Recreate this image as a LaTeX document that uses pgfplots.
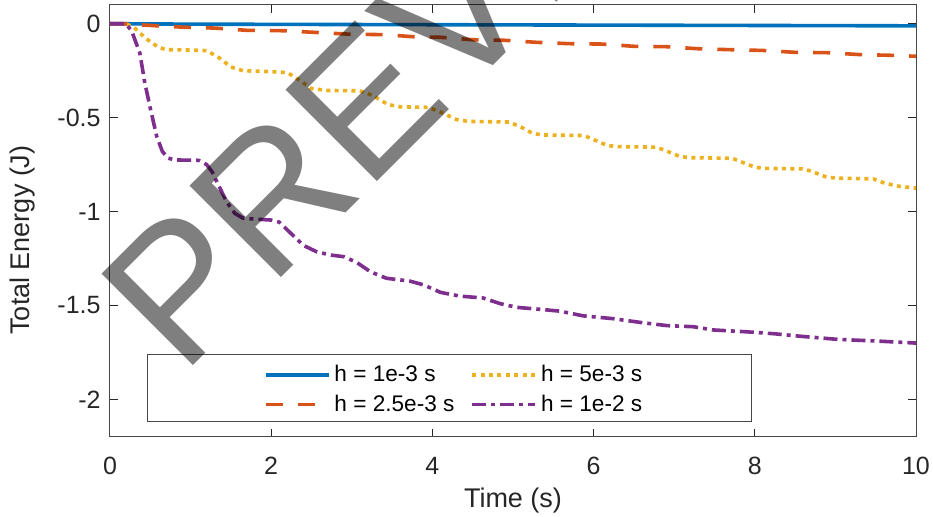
\documentclass[border=0pt]{standalone}
\usepackage{pgfplots}
\pgfplotsset{compat=1.18}
\usepackage{fontspec}
\setmainfont{Liberation Sans}
\definecolor{c1}{rgb}{0,0.447,0.741}
\definecolor{c2}{rgb}{0.850,0.325,0.098}
\definecolor{c3}{rgb}{0.929,0.694,0.125}
\definecolor{c4}{rgb}{0.494,0.184,0.556}
\definecolor{axc}{rgb}{0.15,0.15,0.15}
\begin{document}
\begin{tikzpicture}
\path[use as bounding box] (-55pt,-40pt) rectangle (411.5pt,218.5pt);
\begin{axis}[
  scale only axis, width=403pt, height=216pt,
  xmin=0, xmax=10, ymin=-2.2, ymax=0.1,
  xtick={0,2,4,6,8,10}, xticklabels={0,2,4,6,8,10},
  ytick={-2,-1.5,-1,-0.5,0}, yticklabels={-2,-1.5,-1,-0.5,0},
  tick align=inside, major tick length=4pt,
  axis line style={axc!85, line width=0.5pt},
  every tick/.style={axc, line width=0.5pt},
  tick label style={font=\fontsize{12.5}{14}\selectfont, text=axc},
  xticklabel style={yshift=-6.5pt},
  yticklabel style={xshift=-1.2pt},
  xlabel={Time (s)}, ylabel={Total Energy (J)},
  label style={font=\fontsize{13.5}{15}\selectfont, text=axc},
  xlabel style={at={(axis description cs:0.5,-0.146)}, anchor=center},
  ylabel style={at={(axis description cs:-0.109,0.456)}, anchor=center},
  legend columns=2,
  legend cell align=left,
  legend style={at={(axis description cs:0.183,0.185)}, anchor=north west,
    draw=none, fill=none, font=\fontsize{11.3}{13}\selectfont, row sep=1pt,
    /tikz/every even column/.append style={column sep=6pt}},
  legend image code/.code={\draw[#1] (0pt,0pt) -- (31.5pt,0pt);},
]
\draw[axc!85, fill=white, line width=0.5pt] (axis description cs:0.047,0.192) rectangle (axis description cs:0.7965,0.037);
\addplot[c1, line width=1.8pt] table {
0 0
0.2 0
1 -0.002
2 -0.003
3 -0.004
4 -0.005
5 -0.006
6 -0.007
7 -0.008
8 -0.009
9 -0.010
10 -0.011
};
\addlegendentry{h = 1e-3 s}
\addplot[c3, line width=1.8pt, dash pattern=on 2pt off 2.2pt] table {
0 0
0.2 0
0.3 -0.02
0.45 -0.08
0.6 -0.125
0.7 -0.138
1.0 -0.14
1.2 -0.143
1.35 -0.18
1.5 -0.23
1.65 -0.25
2.0 -0.255
2.2 -0.26
2.35 -0.3
2.5 -0.345
2.7 -0.355
3.1 -0.357
3.25 -0.38
3.45 -0.43
3.6 -0.442
3.95 -0.445
4.1 -0.47
4.3 -0.51
4.45 -0.52
4.95 -0.523
5.1 -0.55
5.25 -0.585
5.38 -0.592
5.88 -0.595
6.02 -0.62
6.17 -0.648
6.3 -0.654
6.78 -0.657
6.92 -0.68
7.07 -0.707
7.2 -0.713
7.72 -0.716
7.86 -0.74
8.01 -0.765
8.15 -0.77
8.62 -0.773
8.76 -0.795
8.9 -0.818
9.05 -0.822
9.47 -0.826
9.62 -0.85
9.8 -0.866
10 -0.875
};
\addlegendentry{h = 5e-3 s}
\addplot[c2, line width=1.8pt, dash pattern=on 8.5pt off 7.5pt] table {
0 0
0.2 0
0.35 -0.005
0.55 -0.01
0.9 -0.018
1.3 -0.023
1.7 -0.035
2.15 -0.037
2.55 -0.046
2.95 -0.055
3.4 -0.058
3.8 -0.07
4.1 -0.072
4.5 -0.085
4.9 -0.088
5.3 -0.099
5.7 -0.106
6.1 -0.108
6.5 -0.12
6.9 -0.122
7.3 -0.133
7.7 -0.138
8.1 -0.142
8.5 -0.152
8.9 -0.154
9.3 -0.164
9.7 -0.168
10 -0.173
};
\addlegendentry{h = 2.5e-3 s}
\addplot[c4, line width=1.8pt, dash pattern=on 7pt off 2.5pt on 2pt off 2.5pt] table {
0 0
0.2 0
0.27 -0.04
0.37 -0.155
0.43 -0.31
0.5 -0.45
0.58 -0.6
0.65 -0.68
0.72 -0.715
0.8 -0.725
1.1 -0.727
1.2 -0.75
1.27 -0.79
1.33 -0.845
1.45 -0.95
1.55 -1.01
1.65 -1.035
1.8 -1.04
2.0 -1.045
2.1 -1.056
2.23 -1.11
2.4 -1.18
2.57 -1.215
2.75 -1.232
2.9 -1.24
3.06 -1.27
3.23 -1.32
3.43 -1.355
3.72 -1.37
3.89 -1.39
4.1 -1.43
4.34 -1.45
4.63 -1.46
4.84 -1.49
5.05 -1.51
5.33 -1.52
5.58 -1.53
5.87 -1.555
6.24 -1.57
6.58 -1.59
6.91 -1.607
7.24 -1.613
7.48 -1.63
7.9 -1.64
8.23 -1.65
8.6 -1.665
9.02 -1.68
9.55 -1.69
10 -1.7
};
\addlegendentry{h = 1e-2 s}
\end{axis}
\node[rotate=45, anchor=base west, inner sep=0pt, text=black, text opacity=0.5, font=\fontsize{94}{94}\selectfont] at (35.9pt,29.9pt) {PREVIEW};
\end{tikzpicture}
\end{document}
